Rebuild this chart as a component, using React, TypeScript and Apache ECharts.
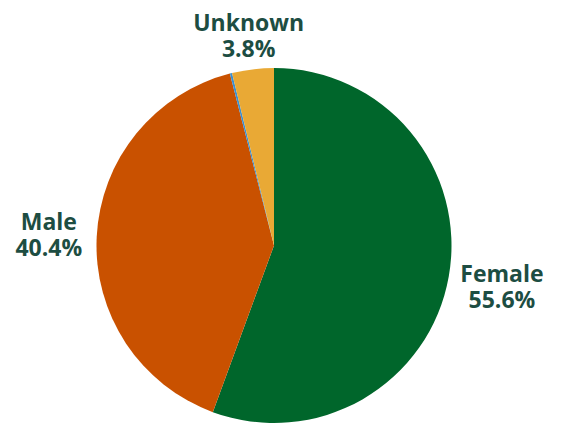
import React, { useEffect, useRef } from "react";
import * as echarts from "echarts";

const categories = ["Female", "Male", "Other", "Unknown"];
const values = [55.6, 40.4, 0.2, 3.8];
const colors = ["#00662b", "#c95100", "#3b8fd0", "#e9a935"];
const showLabel = [true, true, false, true];
const labelOffsets = [54, 48, 0, 35];

export default function App() {
  const ref = useRef<HTMLDivElement>(null);
  useEffect(() => {
    document.body.style.margin = "0";
    const chart = echarts.init(ref.current!, undefined, { renderer: "svg" });
    chart.setOption({
      animation: false,
      backgroundColor: "#ffffff",
      series: [
        {
          type: "pie",
          center: [274, 245.5],
          radius: 177.5,
          startAngle: 90,
          clockwise: true,
          avoidLabelOverlap: false,
          label: {
            show: true,
            position: "outside",
            distanceToLabelLine: 0,
            formatter: (p: any) => `${p.name}\n${p.value.toFixed(1)}%`,
            fontFamily: "Open Sans",
            fontWeight: "bold",
            fontSize: 23,
            lineHeight: 26,
            color: "#1d4d42",
          },
          labelLine: { show: false, length2: 0 },
          labelLayout: { align: "center" },
          itemStyle: { borderWidth: 0 },
          data: categories.map((name, i) => ({
            name,
            value: values[i],
            itemStyle: { color: colors[i] },
            label: { show: showLabel[i] },
            labelLine: { show: false, length: labelOffsets[i], length2: 0 },
          })),
        },
      ],
    });
    return () => chart.dispose();
  }, []);
  return (
    <div
      ref={ref}
      style={{ position: "absolute", left: 0, top: 0, width: 561, height: 427 }}
    />
  );
}
